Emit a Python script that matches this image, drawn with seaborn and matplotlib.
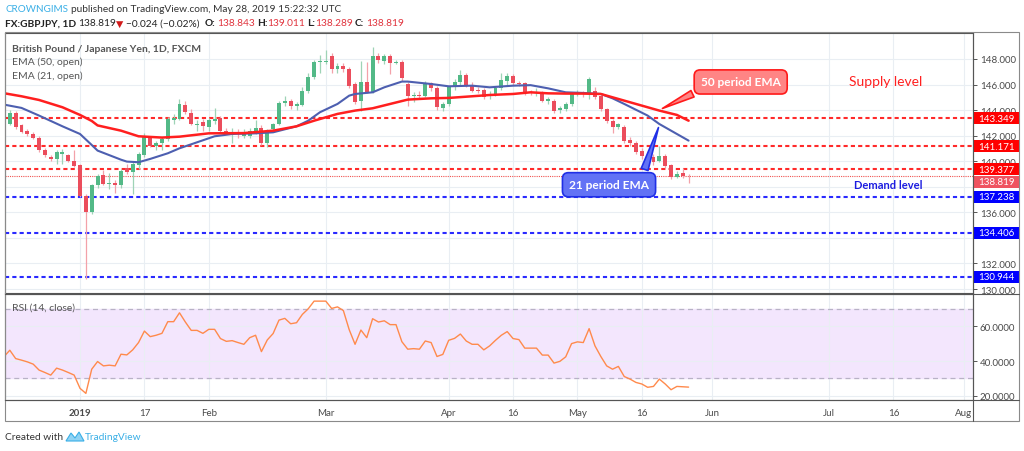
import numpy as np
import pandas as pd
import seaborn as sns
import matplotlib.pyplot as plt
import matplotlib.transforms as mtransforms
from matplotlib.patches import Rectangle, Polygon
from matplotlib.lines import Line2D

sns.set_style("white")
plt.rcParams['font.family'] = ['Lato', 'DejaVu Sans']

# daily bars, bar 0 = 2 Jan 2019
bars = list(range(-13, 105))
opens = [141.6, 142.9, 143.8, 142.8, 142.4, 142.15, 141.85, 140.85, 140.3, 140.15,
         140.55, 140.45, 140.05, 139.7, 137.26, 136.0, 138.1, 138.9, 138.2, 138.3,
         138.15, 139.45, 139.13, 139.7, 140.5, 141.87, 141.2, 141.4, 141.75, 143.2,
         143.3, 144.4, 143.8, 142.8, 143.1, 142.7, 143.15, 143.35, 142.4, 142.25,
         142.3, 142.0, 141.95, 142.4, 142.6, 141.43, 142.5, 142.9, 144.55, 144.74,
         144.3, 144.4, 145.5, 146.6, 147.75, 147.78, 148.26, 147.2, 147.45, 147.25,
         146.04, 144.7, 146.2, 145.4, 148.25, 147.85, 148.25, 147.7, 147.75, 146.05,
         145.1, 145.2, 145.1, 146.1, 145.75, 144.2, 144.5, 145.8, 146.2, 146.75,
         145.95, 145.6, 145.55, 145.1, 145.2, 145.7, 146.3, 146.7, 146.15, 146.1,
         145.4, 145.3, 145.39, 144.7, 144.74, 144.0, 144.1, 144.45, 145.3, 145.4,
         145.3, 145.5, 145.13, 144.1, 143.17, 142.7, 142.65, 141.65, 141.43, 140.78,
         140.5, 140.3, 140.05, 140.4, 139.7, 138.8, 139.08, 138.843]
highs = [143.0, 144.0, 143.9, 142.9, 142.5, 142.3, 142.0, 141.0, 140.45, 140.9,
         140.95, 140.6, 140.9, 139.8, 137.4, 138.2, 139.0, 139.3, 139.1, 138.5,
         139.4, 139.8, 139.9, 140.7, 142.2, 142.0, 141.6, 141.9, 143.45, 143.7,
         144.85, 144.7, 144.1, 143.2, 143.3, 143.4, 144.2, 143.5, 142.6, 142.6,
         142.5, 142.5, 142.6, 143.2, 142.8, 142.5, 143.0, 144.7, 145.1, 144.9,
         144.6, 145.8, 146.9, 147.9, 148.3, 148.7, 148.5, 147.7, 147.7, 147.4,
         146.2, 147.87, 147.8, 148.9, 148.5, 148.4, 148.4, 147.9, 147.9, 146.2,
         145.4, 145.5, 146.3, 146.2, 145.9, 144.6, 145.9, 146.4, 147.1, 146.9,
         146.2, 145.8, 145.7, 145.5, 145.9, 146.9, 146.9, 146.8, 146.3, 146.2,
         145.6, 145.7, 145.5, 145.0, 144.9, 144.3, 144.6, 145.4, 145.6, 145.5,
         146.6, 145.8, 145.2, 144.2, 143.3, 143.0, 142.8, 141.9, 141.6, 141.0,
         140.8, 140.6, 141.2, 140.6, 139.8, 139.2, 139.5, 139.011]
lows = [141.5, 142.8, 142.5, 142.2, 142.0, 141.7, 140.7, 140.3, 140.0, 139.8,
        139.8, 139.9, 139.55, 137.2, 130.8, 135.9, 137.9, 138.1, 137.8, 137.5,
        137.9, 139.0, 137.45, 139.4, 140.3, 141.1, 140.85, 140.9, 141.6, 142.9,
        143.2, 143.7, 142.8, 142.4, 142.4, 142.4, 142.9, 142.3, 142.1, 141.4,
        141.8, 141.8, 141.8, 142.1, 141.3, 141.1, 142.3, 142.8, 144.3, 144.1,
        144.0, 144.3, 145.3, 146.4, 146.9, 147.6, 146.9, 146.9, 147.0, 145.7,
        144.5, 143.96, 145.3, 145.3, 147.7, 147.6, 146.8, 147.6, 146.3, 144.3,
        144.6, 144.9, 145.0, 145.5, 144.0, 143.9, 144.3, 145.6, 146.0, 145.8,
        145.4, 145.3, 144.9, 144.9, 145.1, 145.6, 146.0, 146.0, 145.9, 145.2,
        145.2, 145.1, 144.6, 144.5, 143.8, 143.8, 143.9, 144.3, 145.1, 145.0,
        144.9, 144.9, 143.9, 143.0, 142.2, 142.5, 141.4, 141.2, 140.6, 140.2,
        139.9, 139.7, 139.9, 139.5, 138.6, 138.7, 138.7, 138.289]
closes = [142.9, 143.8, 142.65, 142.3, 142.1, 141.8, 140.85, 140.45, 140.15, 140.75,
          140.7, 140.05, 139.65, 137.26, 136.0, 138.1, 138.87, 138.22, 138.3, 138.15,
          139.26, 139.13, 139.78, 140.57, 141.87, 141.22, 141.45, 141.75, 143.3, 143.4,
          144.48, 143.83, 142.9, 142.95, 142.72, 143.2, 143.3, 142.39, 142.2, 142.3,
          142.1, 142.3, 142.4, 142.6, 141.43, 142.39, 142.9, 144.56, 144.7, 144.3,
          144.45, 145.52, 146.62, 147.79, 147.82, 147.85, 147.22, 147.45, 147.2, 145.91,
          144.66, 146.23, 145.44, 148.26, 147.9, 148.25, 147.68, 147.78, 146.49, 145.08,
          145.2, 145.1, 146.09, 145.7, 144.22, 144.47, 145.83, 146.2, 146.75, 145.91,
          145.52, 145.5, 145.05, 145.28, 145.7, 146.33, 146.7, 146.1, 146.05, 145.33,
          145.35, 145.45, 144.74, 144.85, 143.96, 144.15, 144.48, 145.26, 145.4, 145.3,
          146.43, 145.05, 144.09, 143.17, 142.65, 142.9, 141.61, 141.43, 140.75, 140.44,
          140.05, 139.9, 140.4, 139.65, 138.74, 139.0, 138.87, 138.819]
rsi = [42.5, 46.2, 41.4, 40.5, 39.5, 38.2, 34.8, 33.4, 31.9, 35.9,
       34.8, 33.4, 31.9, 24.3, 21.4, 35.3, 39.7, 37.2, 37.6, 37.2,
       43.9, 43.5, 46.4, 50.6, 57.2, 54.0, 54.8, 55.9, 62.6, 62.6,
       67.7, 62.4, 57.6, 57.6, 55.9, 58.2, 58.2, 52.9, 51.3, 51.7,
       50.6, 49.6, 53.4, 54.8, 45.4, 52.1, 55.8, 63.5, 64.5, 61.4,
       62.0, 66.8, 70.0, 74.4, 74.4, 74.4, 70.2, 71.1, 69.0, 58.0,
       49.6, 57.8, 53.4, 64.3, 62.4, 63.1, 60.9, 60.9, 51.1, 46.8,
       47.1, 46.8, 51.5, 50.6, 42.6, 43.8, 51.9, 53.0, 55.5, 51.5,
       49.6, 49.6, 46.4, 48.7, 51.9, 54.8, 56.9, 52.9, 52.3, 47.4,
       47.4, 47.4, 43.4, 43.4, 38.8, 39.8, 42.4, 50.0, 51.0, 50.6,
       58.6, 48.7, 42.6, 37.2, 35.3, 36.9, 31.1, 29.6, 27.7, 26.8,
       24.9, 25.4, 29.6, 26.8, 23.5, 25.4, 25.2, 25.0]

ema50_bars = [-13, -10, -7, -3, 0, 2, 3, 7, 10, 14, 17, 22, 28, 33, 37, 40, 44, 47, 50,
              53, 56, 60, 63, 67, 70, 74, 77, 80, 83, 86, 89, 91, 93, 97, 99, 102, 104]
ema50 = [145.32, 145.08, 144.79, 144.22, 143.62, 143.15, 142.8, 142.39, 141.95, 141.85,
         141.92, 142.18, 142.2, 142.39, 142.73, 143.17, 143.7, 143.96, 144.14, 144.48,
         144.82, 144.92, 144.95, 145.08, 145.18, 145.26, 145.39, 145.31, 145.29, 145.29,
         145.26, 145.0, 144.74, 144.22, 143.96, 143.62, 143.17]
ema21_bars = [-13, -10, -7, -3, 0, 2, 3, 7, 8, 10, 12, 15, 17, 20, 23, 26, 30, 33, 37, 39,
              41, 44, 46, 47, 50, 52, 55, 56, 60, 63, 67, 70, 74, 77, 80, 83, 86, 89, 91,
              93, 97, 99, 102, 104]
ema21 = [144.43, 144.17, 143.57, 142.73, 142.13, 141.27, 140.83, 140.12, 139.97, 139.92,
         140.18, 140.62, 141.01, 141.48, 141.95, 142.13, 142.18, 142.26, 142.73, 143.17,
         143.83, 144.48, 145.13, 145.26, 145.39, 145.78, 146.23, 146.23, 146.04, 145.86,
         145.91, 145.78, 145.91, 145.95, 145.7, 145.39, 145.34, 145.26, 144.92, 144.48,
         143.57, 142.91, 142.13, 141.61]

supply_levels = [143.349, 141.171, 139.377]
demand_levels = [137.238, 134.406, 130.944]
last_price = 138.819

date_ticks = [0, 11, 22, 42, 63, 74, 85, 96, 108, 128, 139, 151]
date_labels = ["2019", "17", "Feb", "Mar", "Apr", "16", "May", "16", "Jun", "Jul", "16", "Aug"]
price_ticks = [130, 132, 134, 136, 138, 140, 142, 144, 146, 148]
hidden_ticks = [134, 138]   # covered by level labels on the scale
rsi_ticks = [20, 40, 60]

df = pd.DataFrame({"bar": bars, "open": opens, "high": highs, "low": lows,
                   "close": closes, "rsi": rsi})
df["up"] = df["close"] >= df["open"]

W, H = 1024, 452
def fx(px):
    return px / W
def fy(py):
    return 1 - py / H

UP, DOWN = "#53b987", "#eb4d5c"
UPW, DOWNW = "#9ed3b6", "#f3a1a9"
GRID = "#e9eef3"
AXC = "#555555"
TXT = "#4a4a4a"
HFS = 7.3

fig = plt.figure(figsize=(W / 100, H / 100), dpi=100)
ax = fig.add_axes([fx(5), fy(294), fx(973) - fx(5), fy(34) - fy(294)])
ax2 = fig.add_axes([fx(5), fy(401), fx(973) - fx(5), fy(295) - fy(401)], sharex=ax)

# candles
ax.vlines(df["bar"], df["low"], df["high"],
          colors=np.where(df["up"], UPW, DOWNW), linewidth=0.9, zorder=3)
body = np.maximum((df["close"] - df["open"]).abs(), 0.06)
ax.bar(df["bar"], body, bottom=df[["open", "close"]].min(axis=1), width=0.68,
       color=np.where(df["up"], UP, DOWN), linewidth=0, zorder=4)

# EMAs
sns.lineplot(x=ema21_bars, y=ema21, ax=ax, color="#4d5fb0", linewidth=1.5, zorder=5)
sns.lineplot(x=ema50_bars, y=ema50, ax=ax, color="#ff1f1f", linewidth=1.8, zorder=5)

# levels
for lv in supply_levels:
    ax.axhline(lv, color="#ff2a2a", linewidth=1.5, linestyle=(0, (2, 1.5)), zorder=2)
for lv in demand_levels:
    ax.axhline(lv, color="#2a2aff", linewidth=1.5, linestyle=(0, (2, 1.5)), zorder=2)
ax.axhline(last_price, color="#ef5350", linewidth=0.8, linestyle=(0, (1, 1)), zorder=2)

ax.set_xlim(-12.82, 152.6)
ax.set_ylim(129.69, 150.03)
ax.yaxis.tick_right()
ax.set_yticks(price_ticks)
ax.set_yticklabels(["" if v in hidden_ticks else f"{v:.3f}" for v in price_ticks])
ax.set_xticks(date_ticks)
ax.tick_params(axis="x", length=0, labelbottom=False)
ax.tick_params(axis="y", length=3, width=0.7, color=AXC, labelsize=7,
               labelcolor=TXT, pad=2)
ax.grid(True, color=GRID, linewidth=0.8, zorder=0)
ax.set_axisbelow(True)
for s in ax.spines.values():
    s.set_color(AXC)
    s.set_linewidth(0.8)

# price labels on the scale
blend = mtransforms.blended_transform_factory(ax.transAxes, ax.transData)
bw = 46 / 968
bh = 12 / 12.78
lab_items = ([(lv, "#ff0000", 0) for lv in supply_levels]
             + [(last_price, "#ef5360", -bh * 0.47)]
             + [(lv, "#0000ff", 0) for lv in demand_levels])
for lv, col, shift in lab_items:
    yc = lv + shift
    ax.add_patch(Rectangle((1.0, yc - bh / 2), bw, bh, transform=blend,
                           facecolor=col, edgecolor="none", clip_on=False, zorder=6))
    ax.text(1.0 + bw / 2, yc, f"{lv:.3f}", transform=blend, ha="center", va="center",
            color="white", fontsize=7, clip_on=False, zorder=7)

# callouts
ax.annotate("50 period EMA", xy=(99.1, 144.03), xytext=(112.9, 146.2),
            ha="center", va="center", color="white", fontsize=8.6, fontweight="bold",
            bbox=dict(boxstyle="round,pad=0.55,rounding_size=0.5", fc="#ff8585", ec="#ff1a1a", lw=1.2),
            arrowprops=dict(arrowstyle="wedge,tail_width=0.6,shrink_factor=0.5",
                            fc="#ff8585", ec="#ff1a1a", lw=1.2, relpos=(0.1, 0.15)),
            zorder=8)
ax.annotate("21 period EMA", xy=(99.0, 142.84), xytext=(90.4, 138.16),
            ha="center", va="center", color="white", fontsize=8.6, fontweight="bold",
            bbox=dict(boxstyle="round,pad=0.55,rounding_size=0.5", fc="#6272f5", ec="#1f2fe6", lw=1.2),
            arrowprops=dict(arrowstyle="wedge,tail_width=0.6,shrink_factor=0.5",
                            fc="#6272f5", ec="#1f2fe6", lw=1.2, relpos=(0.9, 0.9)),
            zorder=8)
ax.text(137.6, 146.3, "Supply level", color="#ff2020", fontsize=10,
        ha="center", va="center", zorder=8)
ax.text(138.1, 138.14, "Demand level", color="#1c1ce0", fontsize=8,
        fontweight="bold", ha="center", va="center", zorder=8)

# RSI panel
ax2.axhspan(30, 70, color="#f3e6fd", zorder=0)
ax2.axhline(70, color="#b8b2c6", linewidth=0.9, linestyle=(0, (4, 3)), zorder=1)
ax2.axhline(30, color="#b8b2c6", linewidth=0.9, linestyle=(0, (4, 3)), zorder=1)
sns.lineplot(data=df, x="bar", y="rsi", ax=ax2, color="#ff8a4c", linewidth=1.0, zorder=4)
ax2.set_ylim(17.6, 78.5)
ax2.yaxis.tick_right()
ax2.set_yticks(rsi_ticks)
ax2.set_yticklabels([f"{v:.4f}" for v in rsi_ticks])
ax2.set_xticks(date_ticks)
ax2.set_xticklabels(date_labels)
for lbl in ax2.get_xticklabels():
    if lbl.get_text() == "2019":
        lbl.set_fontweight("bold")
ax2.tick_params(axis="x", length=0, labelsize=7, labelcolor=TXT, pad=6)
ax2.tick_params(axis="y", length=3, width=0.7, color=AXC, labelsize=7,
                labelcolor=TXT, pad=2)
ax2.set_xlabel("")
ax2.set_ylabel("")
ax.set_xlabel("")
ax.set_ylabel("")
ax2.grid(True, color=GRID, linewidth=0.8, zorder=0)
ax2.set_axisbelow(True)
for s in ax2.spines.values():
    s.set_color(AXC)
    s.set_linewidth(0.8)

# frame lines around the chart
fig.add_artist(Rectangle((fx(5), fy(422)), fx(1019) - fx(5), fy(33) - fy(422),
                         transform=fig.transFigure, fill=False, ec="#8a8a8a", lw=0.8))
for yy in (294.5, 401):
    fig.add_artist(Line2D([fx(5), fx(1019)], [fy(yy), fy(yy)], color=AXC, lw=0.8))
fig.add_artist(Line2D([fx(973), fx(973)], [fy(34), fy(422)], color=AXC, lw=0.8))

# legend texts
fig.text(fx(12), fy(49), "British Pound / Japanese Yen, 1D, FXCM", fontsize=7.5,
         fontweight="bold", color="#555555", va="center")
fig.text(fx(12), fy(62), "EMA (50, open)", fontsize=7.5, color="#555555", va="center")
fig.text(fx(12), fy(76), "EMA (21, open)", fontsize=7.5, color="#555555", va="center")
fig.text(fx(12), fy(308), "RSI (14, close)", fontsize=7.5, color="#555555", va="center")

# header
fig.text(fx(5), fy(10), "CROWNGIMS", fontsize=HFS - 0.2, color="#3aafe6", va="center")
fig.text(fx(71), fy(10), "published on TradingView.com, May 28, 2019 15:22:32 UTC",
         fontsize=HFS, color="#333333", va="center")
fig.text(fx(5), fy(24), "FX:GBPJPY, 1D", fontsize=HFS, fontweight="bold", color="#222222", va="center")
fig.text(fx(78), fy(24), "138.819", fontsize=HFS, color="#222222", va="center")
fig.text(fx(115.5), fy(24), "▼", fontsize=HFS - 0.5, color="#d21a1a", va="center",
         family=["DejaVu Sans"])
fig.text(fx(126), fy(24), "\u22120.024 (\u22120.02%)", fontsize=HFS, color="#222222", va="center")
head_vals = [("O:", "138.843", 205, 217), ("H:", "139.011", 257, 267),
             ("L:", "138.289", 307, 315), ("C:", "138.819", 355, 366)]
for k, v, xk, xv in head_vals:
    fig.text(fx(xk), fy(24), k, fontsize=HFS, fontweight="bold", color="#222222", va="center")
    fig.text(fx(xv), fy(24), v, fontsize=HFS, color="#e0323c", va="center")

# footer
fig.text(fx(5), fy(438), "Created with", fontsize=HFS, color="#333333", va="center")
fig.add_artist(Polygon([[fx(66), fy(442)], [fx(71), fy(434)], [fx(75), fy(439)],
                        [fx(79), fy(433)], [fx(84), fy(442)]], closed=True,
                       transform=fig.transFigure, fc="#8fd3f4", ec="#3aafe6", lw=0.8))
fig.text(fx(85), fy(438), "TradingView", fontsize=HFS, color="#3aafe6", va="center")

fig.savefig("out.png", dpi=100)
